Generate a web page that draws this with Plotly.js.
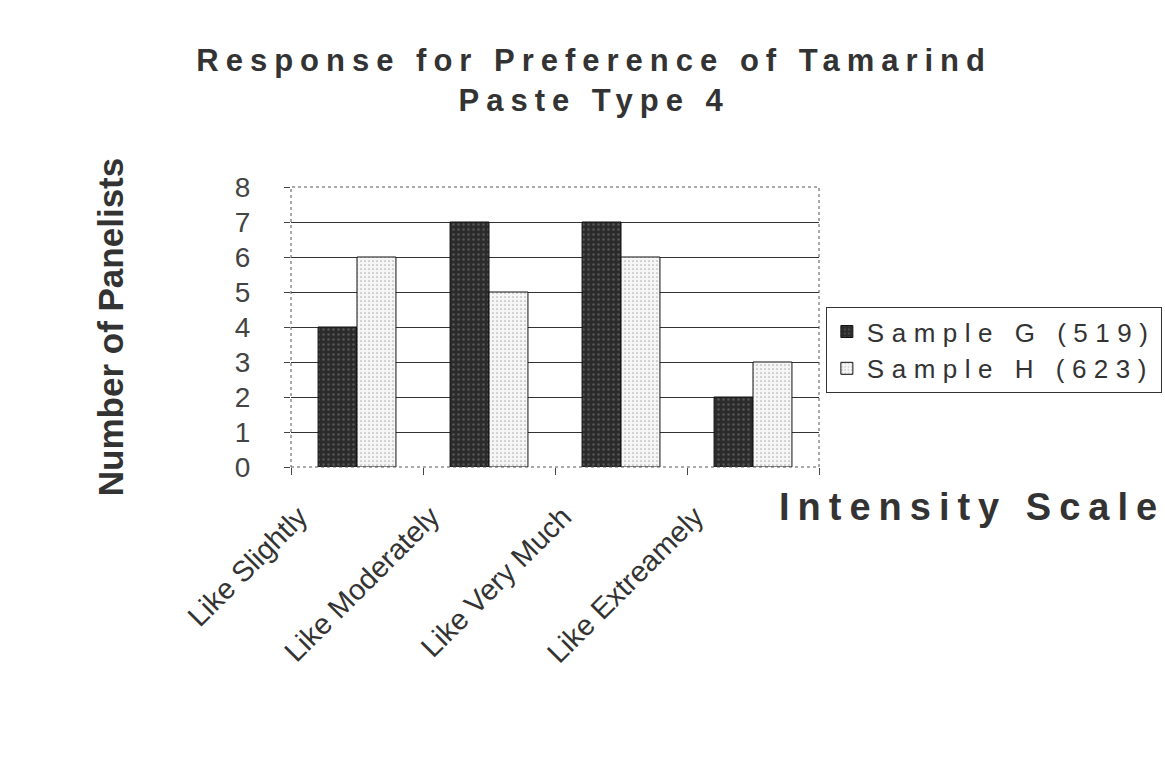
<!DOCTYPE html>
<html>
<head>
<meta charset="utf-8">
<script src="https://cdn.plot.ly/plotly-3.0.1.min.js"></script>
<style>
  html, body { margin: 0; padding: 0; background: #fff; }
  #chart { width: 1165px; height: 775px; }
  .gtitle { letter-spacing: 7px; }
  .legendtext { letter-spacing: 7.5px; }
  .annotation-text { letter-spacing: 8px; }
</style>
</head>
<body>
<div id="chart"></div>
<script>
const categories = ["Like Slightly", "Like Moderately", "Like Very Much", "Like Extreamely"];
const sampleG = [4, 7, 7, 2];
const sampleH = [6, 5, 6, 3];
const seriesNames = ["Sample G (519)", "Sample H (623)"];
const yTicks = [0, 1, 2, 3, 4, 5, 6, 7, 8];

const FONT = "Liberation Sans, Arial, sans-serif";

const traces = [
  {
    type: "bar", name: seriesNames[0], x: categories, y: sampleG,
    marker: {
      color: "#2b2b2b",
      line: { color: "#111", width: 1 },
      pattern: { shape: ".", fgcolor: "#555", bgcolor: "#2b2b2b", size: 5, solidity: 0.2 }
    }
  },
  {
    type: "bar", name: seriesNames[1], x: categories, y: sampleH,
    marker: {
      color: "#f4f4f4",
      line: { color: "#111", width: 1 },
      pattern: { shape: ".", fgcolor: "#b0b0b0", bgcolor: "#f6f6f6", size: 4, solidity: 0.15 }
    }
  }
];

const layout = {
  width: 1165, height: 775,
  paper_bgcolor: "#fff", plot_bgcolor: "#fff",
  margin: { l: 291, r: 346, t: 187, b: 308, autoexpand: false },
  font: { family: FONT, color: "#333" },
  showlegend: true,
  barmode: "group", bargap: 0.41, bargroupgap: 0,
  title: {
    text: "<b>Response for Preference of Tamarind<br>Paste Type 4</b>",
    font: { family: FONT, size: 31, color: "#333" },
    x: 0.51, xanchor: "center", xref: "container",
    y: 1 - 71 / 775, yanchor: "top", yref: "container"
  },
  xaxis: {
    type: "category",
    tickangle: -45,
    tickfont: { family: FONT, size: 29, color: "#333" },
    ticks: "outside", tickson: "boundaries", ticklen: 7, tickcolor: "#444", tickwidth: 1,
    ticklabelshift: -58,
    ticklabelstandoff: 26,
    showgrid: false, showline: false, zeroline: false,
    fixedrange: true
  },
  yaxis: {
    range: [0, 8],
    tickvals: yTicks,
    tickfont: { family: FONT, size: 28, color: "#444" },
    ticks: "outside", ticklen: 6, tickcolor: "#444", tickwidth: 1,
    ticklabelstandoff: 28,
    showgrid: true, gridcolor: "#333", gridwidth: 1,
    showline: false, zeroline: false,
    title: {
      text: "<b>Number of Panelists</b>",
      font: { family: FONT, size: 35, color: "#333" },
      standoff: 100
    }
  },
  legend: {
    x: 1.013, xanchor: "left", y: 0.571, yanchor: "top",
    bordercolor: "#333", borderwidth: 1, bgcolor: "#fff",
    font: { family: FONT, size: 26, color: "#333" },
    itemwidth: 30, tracegroupgap: 0
  },
  shapes: [
    { type: "rect", xref: "x domain", yref: "y domain", x0: 0, x1: 1, y0: 0, y1: 1,
      line: { color: "#555", width: 1, dash: "dot" }, fillcolor: "rgba(0,0,0,0)", layer: "above" }
  ],
  annotations: [
    { text: "<b>Intensity Scale</b>", xref: "paper", yref: "paper",
      x: 0.92, y: -0.143, xanchor: "left", yanchor: "middle", showarrow: false,
      font: { family: FONT, size: 38, color: "#333" } }
  ]
};

Plotly.newPlot("chart", traces, layout, { displayModeBar: false, staticPlot: true });
</script>
</body>
</html>
